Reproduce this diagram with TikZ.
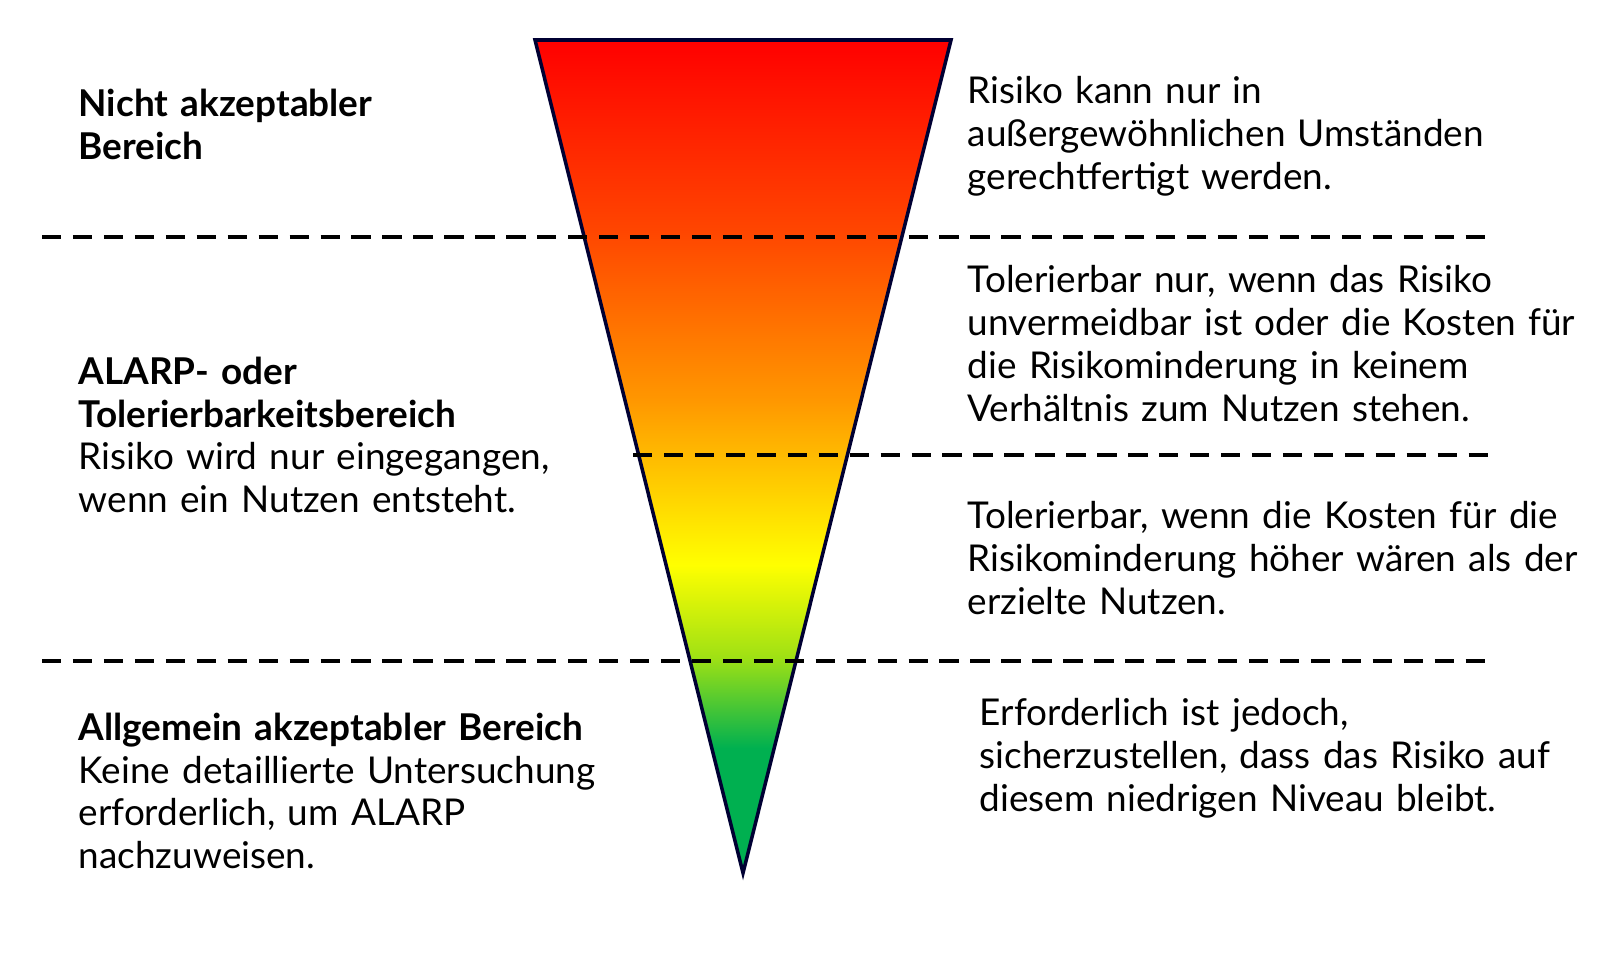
\documentclass[tikz,border=0pt]{standalone}
\usepackage{fontspec}
\setmainfont{Lato}
\hyphenpenalty=10000
\exhyphenpenalty=10000
\pgfdeclareverticalshading{risk}{100bp}{color(0bp)=(rgb,255:red,0;green,176;blue,80);color(25bp)=(rgb,255:red,0;green,176;blue,80);color(32.5bp)=(rgb,255:red,0;green,176;blue,80);color(38bp)=(rgb,255:red,160;green,225;blue,20);color(43.5bp)=(rgb,255:red,255;green,255;blue,0);color(53.5bp)=(rgb,255:red,255;green,150;blue,0);color(63.5bp)=(rgb,255:red,255;green,70;blue,0);color(75bp)=(rgb,255:red,255;green,0;blue,0);color(100bp)=(rgb,255:red,255;green,0;blue,0)}
\begin{document}
\begin{tikzpicture}[x=0.01cm,y=-0.01cm,
 dashline/.style={line width=1.1pt,dash pattern=on 5.5pt off 3.3pt},
 txt/.style={anchor=north west,inner sep=0pt,align=left,font=\fontsize{10.5}{12.2}\selectfont,text width=#1},
 txt/.default=5.5cm]
\coordinate (tl) at (535,40); \coordinate (tr) at (951,40); \coordinate (b) at (743,873);
\shade[shading=risk] (tl) -- (tr) -- (b) -- cycle;
\draw[line width=1pt,color=black!80!blue] (tl) -- (tr) -- (b) -- cycle;
\coordinate (d1a) at (42,237); \coordinate (d1b) at (1490,237);
\coordinate (d2a) at (633,455); \coordinate (d2b) at (1490,455);
\coordinate (d3a) at (42,661); \coordinate (d3b) at (1490,661);
\draw[dashline] (d1a) -- (d1b);
\draw[dashline] (d2a) -- (d2b);
\draw[dashline] (d3a) -- (d3b);
\node[txt] (l1) at (78,88) {\textbf{Nicht akzeptabler\\Bereich}};
\node[txt] (l2) at (78,356) {\textbf{ALARP- oder\\Tolerierbarkeitsbereich}\\Risiko wird nur eingegangen,\\wenn ein Nutzen entsteht.};
\node[txt] (l3) at (78,712) {\textbf{Allgemein akzeptabler Bereich}\\Keine detaillierte Untersuchung\\erforderlich, um ALARP\\nachzuweisen.};
\node[txt=6.5cm] (r1) at (967,76) {Risiko kann nur in\\außergewöhnlichen Umständen\\gerechtfertigt werden.};
\node[txt=6.5cm] (r2) at (967,265) {Tolerierbar nur, wenn das Risiko\\unvermeidbar ist oder die Kosten für\\die Risikominderung in keinem\\Verhältnis zum Nutzen stehen.};
\node[txt=6.5cm] (r3) at (967,501) {Tolerierbar, wenn die Kosten für die\\Risikominderung höher wären als der\\erzielte Nutzen.};
\node[txt=6.5cm] (r4) at (979,698) {Erforderlich ist jedoch,\\sicherzustellen, dass das Risiko auf\\diesem niedrigen Niveau bleibt.};
\pgfresetboundingbox
\useasboundingbox (0,0) rectangle (1619,973);
\end{tikzpicture}
\end{document}
